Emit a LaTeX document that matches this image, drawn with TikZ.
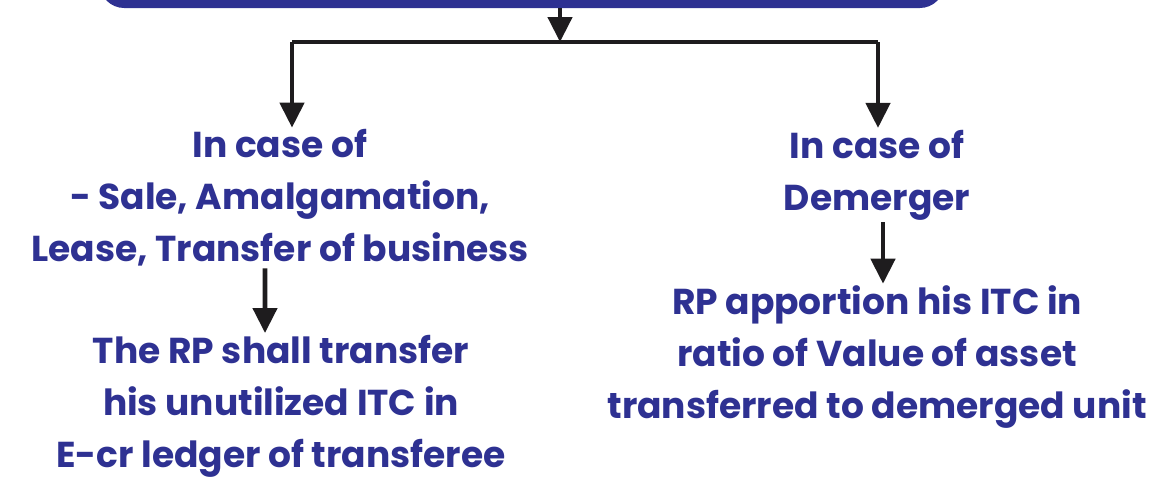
\documentclass[tikz,border=0pt]{standalone}
\usepackage{fontspec}
\setmainfont{Poppins}
\usetikzlibrary{arrows.meta,positioning}
\definecolor{figNavy}{RGB}{46,49,146}
\definecolor{figInk}{RGB}{30,28,30}

\begin{document}
\begin{tikzpicture}[
  x=0.02cm, y=-0.02cm,
  font=\bfseries\fontsize{20.5}{29.5}\selectfont,
  label/.style={text=figNavy,align=center,inner sep=1pt},
  header/.style={fill=figNavy,rounded corners=14pt,minimum width=16.9cm,minimum height=1.6cm},
  arrow/.style={-{Triangle[length=0.5cm,width=0.48cm]},line width=2.6pt,draw=figInk},
  bus/.style={line width=2.6pt,draw=figInk}
]
\useasboundingbox (0,0) rectangle (1175,485);

\node[header] (head) at (522,-32) {};

\node[label] (caseL) at (280,198) {In case of\\- Sale, Amalgamation,\\Lease, Transfer of business};
\node[label] (moveL) at (281,406) {The RP shall transfer\\his unutilized ITC in\\E-cr ledger of transferee};

\node[label] (caseR) at (877,175) {In case of\\Demerger};
\node[label] (moveR) at (877,357) {RP apportion his ITC in\\ratio of Value of asset\\transferred to demerged unit};

\coordinate (busmid) at (560,42);
\draw[arrow] (head.south -| busmid) -- (busmid);
\draw[bus] (292,42) -- (878,42);
\draw[arrow] (292,42) -- (caseL.north -| 292,0);
\draw[arrow] (878,42) -- (caseR.north -| 878,0);

\draw[arrow] ([xshift=-0.3cm]caseL.south) -- ([xshift=-0.32cm]moveL.north);
\draw[arrow] ([xshift=0.12cm]caseR.south) -- ([xshift=0.12cm]moveR.north);

\end{tikzpicture}
\end{document}
